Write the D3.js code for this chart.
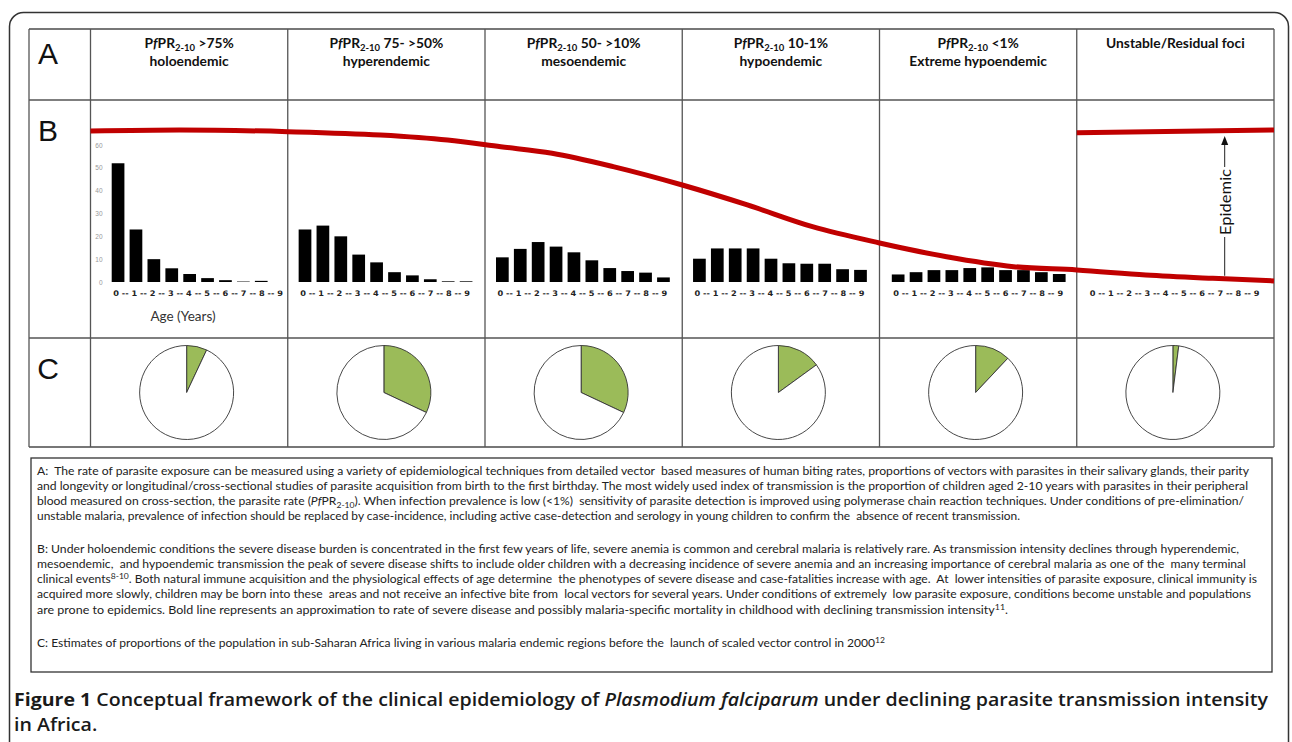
<!DOCTYPE html>
<html><head><meta charset="utf-8">
<script src="https://cdn.jsdelivr.net/npm/d3@7/dist/d3.min.js"></script>
<style>body{margin:0;background:#fff;} svg{display:block;} text{white-space:pre;}</style>
</head><body><svg id="c" width="1292" height="742"></svg>
<script>
// ---------------- DATA ----------------
const zoneNames = ["holoendemic","hyperendemic","mesoendemic","hypoendemic","Extreme hypoendemic","Unstable/Residual foci"];
const prLabels  = [">75%","75- >50%","50- >10%","10-1%","<1%",null];
const ageTicks  = ["0","1","2","3","4","5","6","7","8","9"];
const yTicks    = [0,10,20,30,40,50,60];
// severe disease by age (panel B), one array per zone
const severeHolo    = [52,23,10,6,3.5,1.7,0.8,0.2,0.5,0];
const severeHyper   = [23,24.7,20,12,8.6,4.3,2.9,1.2,0.3,0.3];
const severeMeso    = [10.8,14.5,17.5,15.5,13,9.5,6.1,4.8,4.1,2];
const severeHypo    = [10.2,14.7,14.7,14.7,10.2,8.2,8,8,5.6,5.3];
const severeExtreme = [3.3,4.3,5.2,5.2,6.1,6.4,5.2,5.2,4.3,3.5];
// bold line: relative rate of severe disease along transmission gradient (0..6 = zone columns)
const curvePos  = [0,0.45,1.0,1.47,1.81,2.08,2.34,2.65,3.0,3.33,3.66,4.0,4.34,4.68,5.0,5.35,5.69,6.0];
const curveRate = [99.3,100,98.9,96.7,93.4,89,84.7,75.9,63.8,50.7,36.4,25.7,16.6,10.1,7.9,4.6,2.4,0.7];
const epidemicPos  = [5.0,6.0];
const epidemicRate = [98.2,100];
const epidemicArrow = {pos:5.75, from:4.1, to:96};
// panel C: share of population
const popShare = [0.07,0.32,0.32,0.15,0.12,0.02];

// ---------------- TEXT ----------------
const paraLines = [
 [[ "A:  The rate of parasite exposure can be measured using a variety of epidemiological techniques from detailed vector  based measures of human biting rates, proportions of vectors with parasites in their salivary glands, their parity"]],
 [[ "and longevity or longitudinal/cross-sectional studies of parasite acquisition from birth to the first birthday. The most widely used index of transmission is the proportion of children aged 2-10 years with parasites in their peripheral"]],
 [[ "blood measured on cross-section, the parasite rate ("],["Pf","i"],["PR"],["2-10","sub"],["). When infection prevalence is low (<1%)  sensitivity of parasite detection is improved using polymerase chain reaction techniques. Under conditions of pre-elimination/","back"]],
 [[ "unstable malaria, prevalence of infection should be replaced by case-incidence, including active case-detection and serology in young children to confirm the  absence of recent transmission."]],
 [[ "B: Under holoendemic conditions the severe disease burden is concentrated in the first few years of life, severe anemia is common and cerebral malaria is relatively rare. As transmission intensity declines through hyperendemic,"]],
 [[ "mesoendemic,  and hypoendemic transmission the peak of severe disease shifts to include older children with a decreasing incidence of severe anemia and an increasing importance of cerebral malaria as one of the  many terminal"]],
 [[ "clinical events"],["8-10","sup"],[". Both natural immune acquisition and the physiological effects of age determine  the phenotypes of severe disease and case-fatalities increase with age.  At  lower intensities of parasite exposure, clinical immunity is","backsup"]],
 [[ "acquired more slowly, children may be born into these  areas and not receive an infective bite from  local vectors for several years. Under conditions of extremely  low parasite exposure, conditions become unstable and populations"]],
 [[ "are prone to epidemics. Bold line represents an approximation to rate of severe disease and possibly malaria-specific mortality in childhood with declining transmission intensity"],["11","sup"],[".","backsup"]],
 [[ "C: Estimates of proportions of the population in sub-Saharan Africa living in various malaria endemic regions before the  launch of scaled vector control in 2000"],["12","sup"]]
];
const paraY   = [474.5,489.8,505.1,520.4,552.5,567.8,583.1,598.4,613.7,647];
const paraEnd = [1249,1248,1244,1020,1239,1246,1257,1251,1008,885];

// ---------------- LAYOUT ----------------
const svg = d3.select("#c");
const col = d3.scaleLinear().domain([0,6]).range([90.5,1274]);
const colW = col(1)-col(0);
const tblL = 29, tblR = 1274, rowY = [29,100,338,447];

// outer rounded frame
svg.append("rect").attr("x",9.5).attr("y",12.5).attr("width",1279).attr("height",800)
  .attr("rx",14).attr("fill","none").attr("stroke","#333").attr("stroke-width",1.5);

// table grid
const grid = svg.append("g").attr("stroke","#555").attr("fill","none");
rowY.forEach((y,i)=>grid.append("line").attr("x1",tblL).attr("x2",tblR).attr("y1",y).attr("y2",y)
   .attr("stroke", (i===0||i===3)?"#777":"#555").attr("stroke-width",(i===0||i===3)?2:1.3));
grid.append("line").attr("x1",tblL).attr("x2",tblL).attr("y1",rowY[0]).attr("y2",rowY[3]).attr("stroke-width",1.3);
d3.range(7).forEach(i=>grid.append("line").attr("x1",col(i)).attr("x2",col(i)).attr("y1",rowY[0]).attr("y2",rowY[3]).attr("stroke-width",1.3));

// row letters
[["A",64],["B",141],["C",379]].forEach(([t,y])=>svg.append("text").attr("x",48).attr("y",y)
  .attr("text-anchor","middle").attr("font-family","Liberation Sans, Arial").attr("font-size",30).attr("fill","#111").text(t));

// headers
zoneNames.forEach((name,i)=>{
  const cx = col(i)+colW/2;
  const g = svg.append("g").attr("font-family","Lato, Open Sans").attr("font-weight","bold").attr("font-size",13.8).attr("fill","#111").attr("text-anchor","middle");
  if(prLabels[i]===null){
    g.append("text").attr("x",cx).attr("y",48).text(name);
  } else {
    const t = g.append("text").attr("x",cx).attr("y",48);
    t.append("tspan").text("P");
    t.append("tspan").attr("font-style","italic").text("f");
    t.append("tspan").text("PR");
    t.append("tspan").attr("font-size",9.5).attr("dy",2.5).text("2-10");
    t.append("tspan").attr("dy",-2.5).text(" "+prLabels[i]);
    g.append("text").attr("x",cx).attr("y",66).text(name);
  }
});

// panel B bar charts
const y = d3.scaleLinear().domain([0,60]).range([282,145]);
const panels = [severeHolo,severeHyper,severeMeso,severeHypo,severeExtreme];
const barStart = [21.2,10.9,11.0,10.8,12.3,11.5];
const barSpan = 9*17.9+12.7;
d3.range(6).forEach(i=>{
  const x0 = col(i)+barStart[i];
  const xb = d3.scaleBand().domain(ageTicks).range([x0,x0+barSpan]).paddingInner(0.29).paddingOuter(0);
  if(i<5){
    svg.append("g").selectAll("rect").data(panels[i]).join("rect")
      .attr("x",(d,k)=>xb(ageTicks[k])).attr("width",xb.bandwidth())
      .attr("y",d=>y(d)).attr("height",d=>y(0)-y(d)).attr("fill","#000");
  }
  const lx0 = xb(ageTicks[0])+1.5, lx1 = xb(ageTicks[9])+xb.bandwidth()-2.5;
  svg.append("text").attr("x",lx0).attr("y",296).attr("font-family","DejaVu Sans").attr("font-weight","bold")
    .attr("font-size",7.6).attr("fill","#222").attr("textLength",lx1-lx0).attr("lengthAdjust","spacingAndGlyphs")
    .text(ageTicks.join(" -- "));
});
// y axis on first panel
const ax = svg.append("g").attr("transform",`translate(${col(0)+12},0)`)
  .call(d3.axisLeft(y).tickValues(yTicks).tickSize(0).tickPadding(0));
ax.select(".domain").remove();
ax.selectAll("text").attr("font-size",6.5).attr("fill","#999").attr("font-family","Liberation Sans, Arial");
svg.append("text").attr("x",183).attr("y",321).attr("text-anchor","middle").attr("font-family","Lato, Open Sans")
  .attr("font-size",13.5).attr("fill","#333").text("Age (Years)");

// bold red line
const rate = d3.scaleLinear().domain([0,100]).range([282,130]);
const line = d3.line().x(d=>col(d[0])).y(d=>rate(d[1])).curve(d3.curveMonotoneX);
svg.append("path").attr("d",line(d3.zip(curvePos,curveRate))).attr("fill","none")
  .attr("stroke","#c00000").attr("stroke-width",5).attr("stroke-linecap","butt");
svg.append("path").attr("d",line(d3.zip(epidemicPos,epidemicRate))).attr("fill","none")
  .attr("stroke","#c00000").attr("stroke-width",5);

// epidemic arrow
const axp = col(epidemicArrow.pos);
svg.append("line").attr("x1",axp).attr("x2",axp).attr("y1",rate(epidemicArrow.from)).attr("y2",rate(epidemicArrow.to)+6)
  .attr("stroke","#222").attr("stroke-width",1);
const tipY = rate(epidemicArrow.to);
svg.append("path").attr("d",`M${axp},${tipY} L${axp-3.5},${tipY+9} L${axp+3.5},${tipY+9}Z`).attr("fill","#111");
const eg = svg.append("g").attr("transform",`translate(${axp},202) rotate(-90)`);
eg.append("rect").attr("x",-35).attr("y",-8).attr("width",70).attr("height",16).attr("fill","#fff");
eg.append("text").attr("text-anchor","middle").attr("dominant-baseline","central").attr("font-family","Lato, Open Sans")
  .attr("font-size",15).attr("fill","#111").attr("textLength",66).attr("lengthAdjust","spacingAndGlyphs").text("Epidemic");

// panel C pies
const pie = d3.pie().sort(null);
const arc = d3.arc().innerRadius(0).outerRadius(47);
popShare.forEach((p,i)=>{
  const cx = col(i)+colW/2-2.5;
  const g = svg.append("g").attr("transform",`translate(${cx},392.5)`);
  g.selectAll("path").data(pie([p,1-p])).join("path").attr("d",arc)
    .attr("fill",(d,k)=>k===0?"#9bbb59":"#fff").attr("stroke","#333").attr("stroke-width",0.9);
});

// text box
svg.append("rect").attr("x",31).attr("y",458).attr("width",1241).attr("height",214)
  .attr("fill","none").attr("stroke","#333").attr("stroke-width",1.3);
paraLines.forEach((segs,i)=>{
  const t = svg.append("text").attr("x",37).attr("y",paraY[i]).attr("font-family","Lato, Open Sans")
    .attr("font-size",10.6).attr("fill","#222");
  segs.forEach(([s,st])=>{
    const ts = t.append("tspan").text(s);
    if(st==="i") ts.attr("font-style","italic");
    if(st==="sub") ts.attr("font-size",7.5).attr("dy",2.5);
    if(st==="back") ts.attr("dy",-2.5);
    if(st==="sup") ts.attr("font-size",7.5).attr("dy",-4);
    if(st==="backsup") ts.attr("dy",4);
  });
  t.attr("textLength",paraEnd[i]-37).attr("lengthAdjust","spacingAndGlyphs");
});

// caption
const cap1 = svg.append("text").attr("x",14).attr("y",706).attr("font-family","Open Sans, Lato")
  .attr("font-size",17.5).attr("fill","#1a1a1a").attr("font-weight",600);
cap1.append("tspan").attr("font-weight",700).text("Figure 1");
cap1.append("tspan").text(" Conceptual framework of the clinical epidemiology of ");
cap1.append("tspan").attr("font-style","italic").text("Plasmodium falciparum");
cap1.append("tspan").text(" under declining parasite transmission intensity");
const nat = cap1.node().getComputedTextLength();
const ratio = (1268-14)/nat;
cap1.attr("textLength",1268-14).attr("lengthAdjust","spacingAndGlyphs");
const cap2 = svg.append("text").attr("x",14).attr("y",731).attr("font-family","Open Sans, Lato")
  .attr("font-size",17.5).attr("fill","#1a1a1a").attr("font-weight",600).text("in Africa.");
cap2.attr("textLength",cap2.node().getComputedTextLength()*ratio).attr("lengthAdjust","spacingAndGlyphs");
</script></body></html>
